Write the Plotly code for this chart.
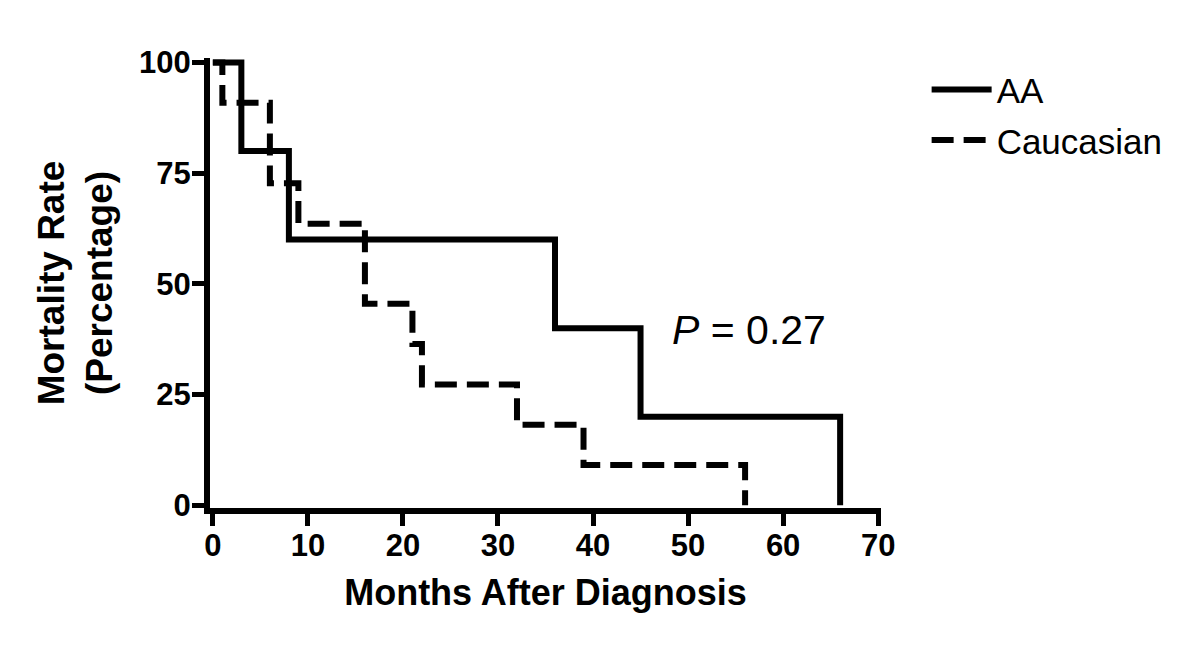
import plotly.graph_objects as go

# Kaplan-Meier style step data (months, percentage)
aa_months = [0, 3, 8, 36, 45, 66]
aa_values = [100, 80, 60, 40, 20, 0]

cau_months = [0, 1, 6, 9, 16, 21, 22, 32, 39, 56]
cau_values = [100, 90.9, 72.7, 63.6, 45.5, 36.4, 27.3, 18.2, 9.1, 0]

x_ticks = [0, 10, 20, 30, 40, 50, 60, 70]
y_ticks = [0, 25, 50, 75, 100]

FONT = "Liberation Sans, Arial"

fig = go.Figure()
fig.add_trace(go.Scatter(
    x=aa_months, y=aa_values, mode="lines", name="AA", legendgroup="aa",
    line=dict(color="black", width=6, shape="hv"),
))
fig.add_trace(go.Scatter(
    x=cau_months, y=cau_values, mode="lines", name="Caucasian", legendgroup="cau",
    line=dict(color="black", width=6, shape="hv", dash="22px,10px"),
))

fig.add_annotation(
    x=48.1, y=39.5, xref="x", yref="y", xanchor="left", yanchor="middle",
    text="<i>P</i> = 0.27", showarrow=False,
    font=dict(family=FONT, size=41, color="black"),
)

fig.update_layout(
    width=1200, height=647,
    plot_bgcolor="white", paper_bgcolor="white",
    margin=dict(l=202, r=327, t=50, b=147),
    showlegend=True,
    legend=dict(
        x=1.068, y=0.995, xanchor="left", yanchor="top",
        font=dict(family=FONT, size=35, color="black"),
        bgcolor="rgba(0,0,0,0)", itemwidth=60, tracegroupgap=2,
    ),
    xaxis=dict(
        range=[-0.3, 70.3], tickvals=x_ticks, ticktext=[str(v) for v in x_ticks],
        showline=True, linecolor="black", linewidth=6,
        ticks="outside", ticklen=12, tickwidth=5, tickcolor="black",
        ticklabelstandoff=-7,
        showgrid=False, zeroline=False,
        tickfont=dict(family=FONT, size=31, color="black", weight="bold"),
        title=dict(text="Months After Diagnosis", standoff=20,
                   font=dict(family=FONT, size=36, color="black", weight="bold")),
    ),
    yaxis=dict(
        range=[-0.6, 101], tickvals=y_ticks, ticktext=[str(v) for v in y_ticks],
        showline=True, linecolor="black", linewidth=6,
        ticks="outside", ticklen=12, tickwidth=5, tickcolor="black",
        ticklabelstandoff=-5,
        showgrid=False, zeroline=False,
        tickfont=dict(family=FONT, size=31, color="black", weight="bold"),
        title=dict(text="Mortality Rate<br>(Percentage)", standoff=17,
                   font=dict(family=FONT, size=37, color="black", weight="bold")),
    ),
)

fig.write_html("out.html")
